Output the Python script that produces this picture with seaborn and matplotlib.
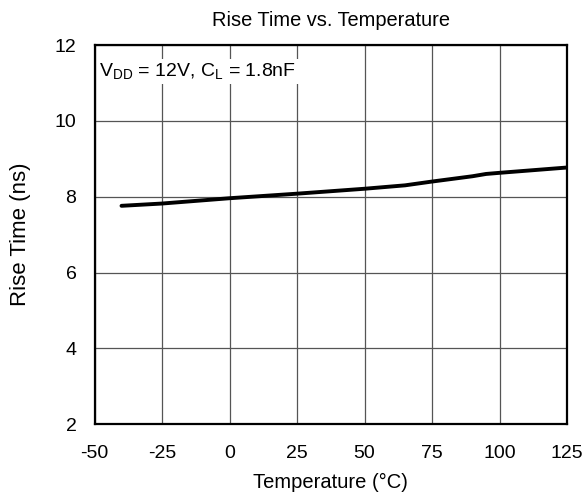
import matplotlib
matplotlib.use("Agg")
import matplotlib.pyplot as plt
import seaborn as sns
import pandas as pd

# Data
temperature = [-40, -25, 0, 25, 50, 65, 75, 90, 95, 100, 125]
rise_time = [7.76, 7.82, 7.96, 8.08, 8.21, 8.30, 8.40, 8.54, 8.60, 8.63, 8.77]
x_ticks = [-50, -25, 0, 25, 50, 75, 100, 125]
y_ticks = [2, 4, 6, 8, 10, 12]

sns.set_style("white")
plt.rcParams['font.family'] = ['Liberation Sans', 'DejaVu Sans']
plt.rcParams['mathtext.fontset'] = 'custom'
plt.rcParams['mathtext.rm'] = 'Liberation Sans'
plt.rcParams['axes.unicode_minus'] = False
for key in ['text.color', 'axes.labelcolor', 'xtick.color', 'ytick.color']:
    plt.rcParams[key] = 'black'

df = pd.DataFrame({'temp': temperature, 'rise': rise_time})

fig = plt.figure(figsize=(5.87, 4.95), dpi=100)
ax = fig.add_axes([0.161, 0.143, 0.805, 0.766])

sns.lineplot(data=df, x='temp', y='rise', ax=ax, color='black', linewidth=2.8)

ax.set_xlim(-50, 125)
ax.set_ylim(2, 12)
ax.set_xticks(x_ticks)
ax.set_yticks(y_ticks)
ax.grid(True, color='#555555', linewidth=0.9)
ax.tick_params(labelsize=14, length=0)
ax.tick_params(axis='x', pad=15)
ax.tick_params(axis='y', pad=13)
for s in ax.spines.values():
    s.set_color('black')
    s.set_linewidth(1.6)

ax.set_title('Rise Time vs. Temperature', fontsize=14.4, pad=14)
ax.set_xlabel('Temperature (°C)', fontsize=14.5, labelpad=8)
ax.set_ylabel('Rise Time (ns)', fontsize=16, labelpad=17)

ax.text(-48.2, 11.3, r'V$_{\mathregular{DD}}$ = 12V, C$_{\mathregular{L}}$ = 1.8nF',
        fontsize=14, va='center', ha='left',
        bbox=dict(facecolor='white', edgecolor='none', pad=2))

fig.savefig('out.png', dpi=100)
